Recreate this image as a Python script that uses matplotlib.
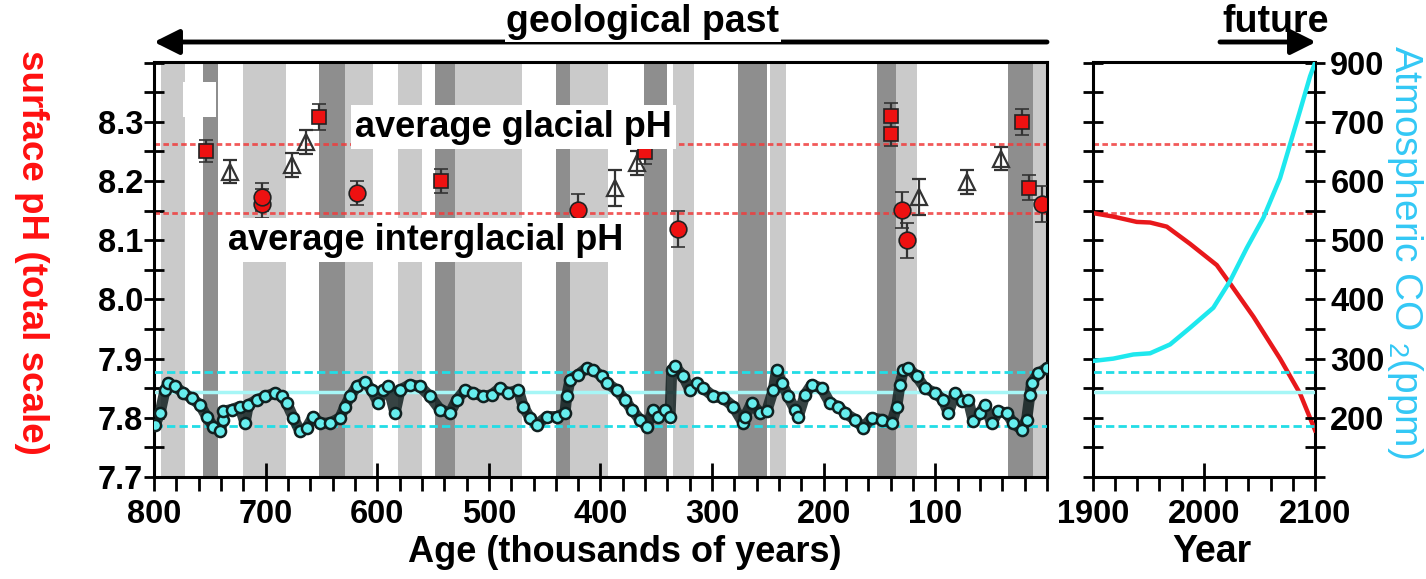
import numpy as np
import matplotlib
matplotlib.use('Agg')
import matplotlib.pyplot as plt
from matplotlib.patches import Rectangle, FancyArrowPatch
from matplotlib.ticker import MultipleLocator, FixedLocator

plt.rcParams['font.family'] = ['Liberation Sans', 'DejaVu Sans']
plt.rcParams['font.weight'] = 'bold'
plt.rcParams['mathtext.default'] = 'regular'

# glacial / interglacial shading (age in kyr, start-end)
dark_bands = [(756.4, 742.4), (651.9, 628.9), (548.3, 530.3), (439.9, 427.3),
              (360.8, 340.7), (277.1, 251.1), (152.6, 135.3), (34.7, 12.8)]
light_bands = [(794.0, 772.2), (720.5, 682.0), (628.9, 603.5), (581.1, 560.2),
               (530.3, 470.6), (427.3, 393.0), (334.8, 316.0), (248.1, 234.1),
               (135.3, 116.7), (12.8, 0.3)]

# boron isotope pH reconstructions
glacial_age = [753.4, 652.2, 542.9, 360.1, 139.7, 139.7, 22.7, 16.1]
glacial_ph = [8.251, 8.309, 8.200, 8.249, 8.310, 8.279, 8.300, 8.189]
glacial_err = [0.019, 0.022, 0.020, 0.020, 0.022, 0.020, 0.022, 0.021]

inter_age = [703.5, 703.5, 618.1, 420.4, 330.3, 129.6, 125.1, 4.2]
inter_ph = [8.162, 8.173, 8.180, 8.151, 8.119, 8.151, 8.100, 8.161]
inter_err = [0.024, 0.024, 0.020, 0.028, 0.031, 0.030, 0.030, 0.030]

trans_age = [731.9, 676.6, 664.1, 387.0, 367.6, 114.4, 71.9, 41.2]
trans_ph = [8.216, 8.227, 8.266, 8.188, 8.230, 8.173, 8.199, 8.238]
trans_err = [0.020, 0.020, 0.020, 0.030, 0.020, 0.030, 0.020, 0.020]

avg_glacial_ph = 8.262
avg_interglacial_ph = 8.146

# ice core CO2 (ppm)
co2_age = [799.1, 794.6, 790.1, 787.2, 781.2, 773.7, 766.2, 758.8, 752.8, 746.9,
           740.9, 737.9, 737.9, 730.4, 723.0, 718.5, 715.5, 708.0, 700.6, 691.6,
           685.6, 681.1, 675.2, 669.2, 663.2, 657.3, 651.3, 642.3, 633.4, 628.9,
           624.4, 618.4, 611.0, 605.0, 599.1, 594.6, 590.1, 584.1, 579.6, 570.7,
           561.7, 552.7, 543.8, 534.8, 528.8, 521.4, 513.9, 505.0, 497.5, 490.0,
           482.6, 473.6, 469.2, 463.2, 457.2, 448.2, 439.2, 431.8, 430.3, 427.3,
           419.9, 412.4, 406.4, 398.9, 394.4, 385.5, 378.1, 372.1, 364.6, 358.6,
           352.7, 348.2, 342.2, 337.7, 336.2, 333.3, 325.8, 319.8, 313.8, 307.9,
           298.9, 289.9, 281.0, 272.1, 270.5, 264.6, 257.1, 251.1, 245.2, 242.2,
           237.7, 231.8, 225.8, 222.8, 216.8, 210.8, 201.8, 194.4, 186.9, 180.9,
           172.0, 164.6, 157.1, 148.1, 139.1, 134.6, 131.7, 128.7, 124.3, 116.7,
           109.3, 100.3, 92.9, 88.4, 82.4, 76.4, 70.5, 66.0, 60.0, 55.5,
           49.6, 43.6, 36.1, 30.2, 22.7, 18.2, 15.3, 13.7, 7.8, 0.3]
co2_ppm = [188, 208, 247, 259, 253, 242, 233, 222, 202, 185,
           177, 197, 211, 214, 219, 191, 222, 230, 236, 242,
           236, 225, 200, 177, 183, 202, 191, 191, 200, 219,
           236, 253, 261, 247, 225, 247, 253, 208, 247, 256,
           253, 236, 214, 208, 230, 247, 242, 236, 239, 250,
           242, 247, 219, 200, 188, 202, 202, 208, 236, 264,
           273, 284, 281, 270, 259, 247, 230, 214, 197, 185,
           214, 202, 214, 202, 281, 287, 270, 247, 259, 250,
           236, 233, 219, 191, 202, 225, 208, 211, 247, 281,
           259, 236, 214, 202, 239, 256, 250, 225, 219, 208,
           197, 183, 200, 197, 191, 219, 256, 281, 284, 270,
           250, 242, 230, 208, 242, 228, 230, 194, 208, 222,
           191, 211, 208, 191, 180, 197, 239, 259, 275, 284]
co2_levels = [277, 186]
co2_mid = 243

# projections 1900-2100
proj_year_ph = [1900, 1918.5, 1939.6, 1951.6, 1966.6, 1987.5, 2011.6, 2023.5,
                2044.5, 2068.5, 2086.5, 2100]
proj_ph = [8.146, 8.140, 8.131, 8.130, 8.123, 8.094, 8.058, 8.027,
           7.971, 7.900, 7.841, 7.779]
proj_year_co2 = [1900, 1918.5, 1936.5, 1951.6, 1969.6, 1987.5, 2008.5, 2023.5,
                 2038.6, 2053.5, 2068.5, 2077.5, 2086.5, 2095.5, 2100]
proj_co2 = [296, 300, 307, 309, 324, 352, 386, 431, 487, 538, 605, 662, 738, 854, 900]

age_ticks = [800, 700, 600, 500, 400, 300, 200, 100, 0]
age_labels = ['800', '700', '600', '500', '400', '300', '200', '100', '']
co2_ticks = [200, 300, 400, 500, 600, 700, 900]
co2_minor = [100, 150, 250, 350, 450, 550, 650, 800]

RED = '#ee1111'
CYAN = '#22dde6'
LABEL_CYAN = '#33c8f5'


def co2_fwd(v):
    return np.interp(v, [0, 700, 1000], [0, 700, 850])


def co2_inv(v):
    return np.interp(v, [0, 700, 850], [0, 700, 1000])


def style_co2_axis(ax):
    ax.set_yscale('function', functions=(co2_fwd, co2_inv))
    ax.set_ylim(100, 902.6)


fig = plt.figure(figsize=(14.26, 5.79), dpi=100)
ax_l = fig.add_axes([0.108, 0.1762, 0.6262, 0.7168])
ax_r = fig.add_axes([0.7663, 0.1762, 0.1559, 0.7168], sharey=ax_l)

for ax in (ax_l, ax_r):
    for sp in ax.spines.values():
        sp.set_linewidth(2.2)

# --- left panel
for a0, a1 in light_bands:
    ax_l.axvspan(a1, a0, color='#cacaca', lw=0, zorder=0)
for a0, a1 in dark_bands:
    ax_l.axvspan(a1, a0, color='#8e8e8e', lw=0, zorder=0)
ax_l.add_patch(Rectangle((744.4, 8.309), 29.9, 0.059, color='white', lw=0, zorder=1))

for ax in (ax_l, ax_r):
    for lev in (avg_glacial_ph, avg_interglacial_ph):
        ax.axhline(lev, color='#f03c3c', lw=2, ls=(0, (2, 1.2)), alpha=0.85, zorder=2)

ax_l.errorbar(trans_age, trans_ph, yerr=trans_err, fmt='^', ms=11, mfc='none',
              mec='#333333', mew=1.6, ecolor='#333333', elinewidth=1.6, capsize=5,
              capthick=1.6, zorder=4)
ax_l.errorbar(glacial_age, glacial_ph, yerr=glacial_err, fmt='s', ms=10, mfc=RED,
              mec='#222222', mew=1.2, ecolor='#333333', elinewidth=1.6, capsize=5,
              capthick=1.6, zorder=4)
ax_l.errorbar(inter_age, inter_ph, yerr=inter_err, fmt='o', ms=12, mfc=RED,
              mec='#222222', mew=1.2, ecolor='#333333', elinewidth=1.6, capsize=5,
              capthick=1.6, zorder=4)

box = dict(facecolor='white', edgecolor='none', boxstyle='square,pad=0.12')
ax_l.text(620, 8.291, 'average glacial pH', fontsize=26, ha='left', va='center',
          bbox=box, zorder=5)
ax_l.text(733.7, 8.100, 'average interglacial pH', fontsize=26, ha='left',
          va='center', bbox=box, zorder=5)

ax_l.set_xlim(800, 0)
ax_l.set_ylim(7.7, 8.4013)
ax_l.set_xticks(age_ticks, labels=age_labels)
ax_l.xaxis.set_minor_locator(MultipleLocator(20))
ax_l.yaxis.set_major_locator(FixedLocator([7.7, 7.8, 7.9, 8.0, 8.1, 8.2, 8.3]))
ax_l.yaxis.set_major_formatter(lambda v, p: f'{v:.1f}')
ax_l.yaxis.set_minor_locator(MultipleLocator(0.05))
ax_l.tick_params(axis='x', which='major', direction='inout', length=20, width=2,
                 labelsize=23.5, pad=6)
ax_l.tick_params(axis='x', which='minor', direction='out', length=10, width=2)
ax_l.tick_params(axis='y', which='both', direction='inout', length=14, width=2,
                 labelsize=23.5, pad=1, right=True)

ax_l2 = ax_l.twinx()
style_co2_axis(ax_l2)
ax_l2.set_yticks([])
ax_l2.yaxis.set_minor_locator(FixedLocator([]))
ax_l2.axhline(co2_mid, color='#a6f6f6', lw=2.5, zorder=1)
for lev in co2_levels:
    ax_l2.axhline(lev, color=CYAN, lw=2, ls=(0, (3, 1.5)), zorder=1)
ax_l2.plot(co2_age, co2_ppm, color='#142222', lw=8, alpha=0.85, zorder=2,
           solid_capstyle='round', solid_joinstyle='round')
ax_l2.plot(co2_age, co2_ppm, 'o', ms=8, mfc='#66eeee', mec='#102020', mew=1.8,
           zorder=3)

# --- right panel
ax_r.plot(proj_year_ph, proj_ph, color='#e8181b', lw=3.2, zorder=3)
ax_r.set_xlim(1900, 2100)
ax_r.set_xticks([1900, 2000, 2100])
ax_r.xaxis.set_minor_locator(MultipleLocator(20))
ax_r.tick_params(axis='x', which='major', direction='inout', length=20, width=2,
                 labelsize=23.5, pad=6)
ax_r.tick_params(axis='x', which='minor', direction='out', length=10, width=2)
ax_r.tick_params(axis='y', which='both', direction='inout', length=14, width=2,
                 labelleft=False)

ax_r2 = ax_r.twinx()
style_co2_axis(ax_r2)
ax_r2.axhline(co2_mid, color='#a6f6f6', lw=2.5, zorder=1)
for lev in co2_levels:
    ax_r2.axhline(lev, color=CYAN, lw=2, ls=(0, (3, 1.5)), zorder=1)
ax_r2.plot(proj_year_co2, proj_co2, color='#1ee8ee', lw=3.2, zorder=3)
ax_r2.set_yticks(co2_ticks, labels=[str(t) for t in co2_ticks])
ax_r2.yaxis.set_minor_locator(FixedLocator(co2_minor))
ax_r2.tick_params(axis='y', which='both', direction='inout', length=14, width=2,
                  labelsize=23.5, pad=4)

# --- labels
fig.text(31 / 1426, 1 - 252 / 579, 'surface pH (total scale)', color='#ff1010',
         fontsize=26.5, rotation=-90, ha='center', va='center')
fig.text(1405 / 1426, 1 - 252 / 579, r'Atmospheric CO $_2$(ppm)', color=LABEL_CYAN,
         fontsize=28, fontweight='normal', rotation=-90, ha='center', va='center')
fig.text(625 / 1426, 1 - 552 / 579, 'Age (thousands of years)', fontsize=26,
         ha='center', va='center')
fig.text(1212 / 1426, 1 - 552 / 579, 'Year', fontsize=27, ha='center', va='center')

arrow = dict(arrowstyle='-|>', lw=3.5, color='black', mutation_scale=38,
             shrinkA=0, shrinkB=0)
fig.add_artist(FancyArrowPatch((1047 / 1426, 1 - 42 / 579), (154 / 1426, 1 - 42 / 579),
                               transform=fig.transFigure, **arrow))
fig.text(643 / 1426, 1 - 22 / 579, 'geological past', fontsize=27, ha='center',
         va='center', bbox=dict(facecolor='white', edgecolor='none', pad=1))
fig.text(1276 / 1426, 1 - 22 / 579, 'future', fontsize=27, ha='center', va='center')
fig.add_artist(FancyArrowPatch((1220 / 1426, 1 - 42 / 579), (1316 / 1426, 1 - 42 / 579),
                               transform=fig.transFigure, **arrow))

fig.savefig('out.png', dpi=100)
